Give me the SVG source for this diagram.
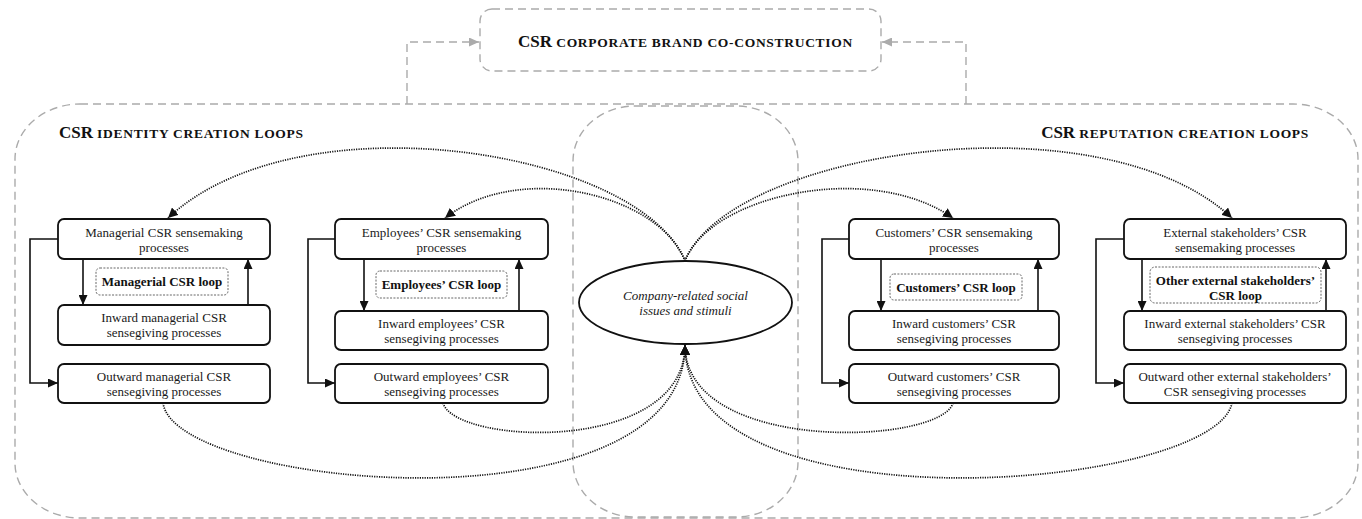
<svg xmlns="http://www.w3.org/2000/svg" width="1362" height="519" viewBox="0 0 1362 519">
<style>
.bg{fill:#fff}
.frame{fill:none;stroke:#ababab;stroke-width:1.4;stroke-dasharray:8 5}
.box{fill:#fff;stroke:#111;stroke-width:1.8}
.lbl{fill:#fff;stroke:#555;stroke-width:0.9;stroke-dasharray:2 1.4}
.ell{fill:#fff;stroke:#111;stroke-width:1.8}
.t{font-family:"Liberation Serif","Times New Roman",serif;font-size:13px;fill:#1a1a1a;text-anchor:middle}
.tb{font-weight:bold;fill:#111}
.ti{font-style:italic}
.head{font-family:"Liberation Serif","Times New Roman",serif;font-weight:bold;fill:#111}
.big{font-size:17px}
.sc{font-size:13.5px;letter-spacing:0.7px}
.grey{fill:none;stroke:#ababab;stroke-width:1.4;stroke-dasharray:8 5}
.dot{fill:none;stroke:#111;stroke-width:1.7;stroke-dasharray:1.2 1.2}
.sol{fill:none;stroke:#111;stroke-width:1.6}
</style>
<defs>
<marker id="ah" markerUnits="userSpaceOnUse" markerWidth="11" markerHeight="9" refX="10" refY="4.5" orient="auto" viewBox="0 0 11 9">
<path d="M0,0 L10,4.5 L0,9 z" fill="#111" stroke="none"/>
</marker>
<marker id="ahd" markerUnits="userSpaceOnUse" markerWidth="11" markerHeight="10" refX="10" refY="5" orient="auto" viewBox="0 0 11 10">
<path d="M0,0 L10,5 L0,10 z" fill="#111" stroke="none"/>
</marker>
<marker id="ahg" markerUnits="userSpaceOnUse" markerWidth="11" markerHeight="9" refX="10" refY="4.5" orient="auto" viewBox="0 0 11 9">
<path d="M0,0 L10,4.5 L0,9 z" fill="#ababab" stroke="none"/>
</marker>
</defs>
<rect class="bg" x="0" y="0" width="1362" height="519"/>

<g id="frames">
<rect class="frame" x="15" y="104" width="1343" height="414" rx="65" ry="55"/>
<rect class="frame" x="573" y="106" width="225" height="411" rx="62" ry="55"/>
</g>

<g id="brand">
<rect class="frame" x="480" y="9" width="401" height="62" rx="12"/>
<text class="head" x="685.5" y="47" text-anchor="middle"><tspan class="big">CSR</tspan><tspan class="sc"> CORPORATE BRAND CO-CONSTRUCTION</tspan></text>
</g>

<g id="titles">
<text class="head" x="59" y="138"><tspan class="big">CSR</tspan><tspan class="sc"> IDENTITY CREATION LOOPS</tspan></text>
<text class="head" x="1309" y="138" text-anchor="end"><tspan class="big">CSR</tspan><tspan class="sc"> REPUTATION CREATION LOOPS</tspan></text>
</g>

<g id="connectors">
<path class="grey" d="M407,104 V42 H479" marker-end="url(#ahg)"/>
<path class="grey" d="M966,104 V42 H882" marker-end="url(#ahg)"/>
<path class="dot" d="M685,261 C640,150 300,95 168,218" marker-end="url(#ahd)"/>
<path class="dot" d="M685,261 C660,195 520,160 445,218" marker-end="url(#ahd)"/>
<path class="dot" d="M685,261 C710,195 870,160 953,218" marker-end="url(#ahd)"/>
<path class="dot" d="M685,261 C730,150 1100,95 1232,218" marker-end="url(#ahd)"/>
<path class="dot" d="M163,403 C175,490 685,535 685,345" marker-end="url(#ahd)"/>
<path class="dot" d="M443,403 C455,445 685,455 685,345" marker-end="url(#ahd)"/>
<path class="dot" d="M953,403 C941,445 685,455 685,345" marker-end="url(#ahd)"/>
<path class="dot" d="M1232,403 C1215,490 685,535 685,345" marker-end="url(#ahd)"/>
<path class="sol" d="M83,259 V305" marker-end="url(#ah)"/>
<path class="sol" d="M248,305 V259" marker-end="url(#ah)"/>
<path class="sol" d="M58,239 H30 V383 H58" marker-end="url(#ah)"/>
<path class="sol" d="M364,259 V311" marker-end="url(#ah)"/>
<path class="sol" d="M519,311 V259" marker-end="url(#ah)"/>
<path class="sol" d="M335,239 H308 V383 H335" marker-end="url(#ah)"/>
<path class="sol" d="M881,259 V311" marker-end="url(#ah)"/>
<path class="sol" d="M1038,311 V259" marker-end="url(#ah)"/>
<path class="sol" d="M849,239 H822 V383 H849" marker-end="url(#ah)"/>
<path class="sol" d="M1142,259 V311" marker-end="url(#ah)"/>
<path class="sol" d="M1326,311 V259" marker-end="url(#ah)"/>
<path class="sol" d="M1124,239 H1096 V383 H1124" marker-end="url(#ah)"/>
</g>

<g id="issues">
<ellipse class="ell" cx="685.5" cy="302.5" rx="106.5" ry="41.5"/>
<text class="t ti" x="685.5" y="299.5">Company-related social</text>
<text class="t ti" x="685.5" y="315">issues and stimuli</text>
</g>

<g id="managerial-sensemaking">
<rect class="box" x="58" y="219" width="212" height="40" rx="6"/>
<text class="t" x="164" y="237">Managerial CSR sensemaking</text>
<text class="t" x="164" y="252">processes</text>
</g>
<g id="managerial-loop">
<rect class="lbl" x="96" y="268" width="132" height="27" rx="4"/>
<text class="t tb" x="162" y="286">Managerial CSR loop</text>
</g>
<g id="managerial-inward">
<rect class="box" x="58" y="305" width="212" height="40" rx="6"/>
<text class="t" x="164" y="322">Inward managerial CSR</text>
<text class="t" x="164" y="337">sensegiving processes</text>
</g>
<g id="managerial-outward">
<rect class="box" x="58" y="364" width="212" height="39" rx="6"/>
<text class="t" x="164" y="381">Outward managerial CSR</text>
<text class="t" x="164" y="396">sensegiving processes</text>
</g>

<g id="employees-sensemaking">
<rect class="box" x="335" y="219" width="213" height="40" rx="6"/>
<text class="t" x="441.5" y="237">Employees’ CSR sensemaking</text>
<text class="t" x="441.5" y="252">processes</text>
</g>
<g id="employees-loop">
<rect class="lbl" x="376" y="271" width="131" height="27" rx="4"/>
<text class="t tb" x="441.5" y="289">Employees’ CSR loop</text>
</g>
<g id="employees-inward">
<rect class="box" x="335" y="311" width="213" height="39" rx="6"/>
<text class="t" x="441.5" y="328">Inward employees’ CSR</text>
<text class="t" x="441.5" y="343">sensegiving processes</text>
</g>
<g id="employees-outward">
<rect class="box" x="335" y="364" width="213" height="39" rx="6"/>
<text class="t" x="441.5" y="381">Outward employees’ CSR</text>
<text class="t" x="441.5" y="396">sensegiving processes</text>
</g>

<g id="customers-sensemaking">
<rect class="box" x="849" y="219" width="210" height="40" rx="6"/>
<text class="t" x="954" y="237">Customers’ CSR sensemaking</text>
<text class="t" x="954" y="252">processes</text>
</g>
<g id="customers-loop">
<rect class="lbl" x="890" y="274" width="132" height="26" rx="4"/>
<text class="t tb" x="956" y="291.5">Customers’ CSR loop</text>
</g>
<g id="customers-inward">
<rect class="box" x="849" y="311" width="210" height="39" rx="6"/>
<text class="t" x="954" y="328">Inward customers’ CSR</text>
<text class="t" x="954" y="343">sensegiving processes</text>
</g>
<g id="customers-outward">
<rect class="box" x="849" y="364" width="210" height="39" rx="6"/>
<text class="t" x="954" y="381">Outward customers’ CSR</text>
<text class="t" x="954" y="396">sensegiving processes</text>
</g>

<g id="external-sensemaking">
<rect class="box" x="1124" y="219" width="222" height="40" rx="6"/>
<text class="t" x="1235" y="237">External stakeholders’ CSR</text>
<text class="t" x="1235" y="252">sensemaking processes</text>
</g>
<g id="external-loop">
<rect class="lbl" x="1150" y="267" width="171" height="36" rx="5"/>
<text class="t tb" x="1235.5" y="285">Other external stakeholders’</text>
<text class="t tb" x="1235.5" y="300">CSR loop</text>
</g>
<g id="external-inward">
<rect class="box" x="1124" y="311" width="222" height="39" rx="6"/>
<text class="t" x="1235" y="328">Inward external stakeholders’ CSR</text>
<text class="t" x="1235" y="343">sensegiving processes</text>
</g>
<g id="external-outward">
<rect class="box" x="1124" y="364" width="222" height="39" rx="6"/>
<text class="t" x="1235" y="381">Outward other external stakeholders’</text>
<text class="t" x="1235" y="396">CSR sensegiving processes</text>
</g>
</svg>
